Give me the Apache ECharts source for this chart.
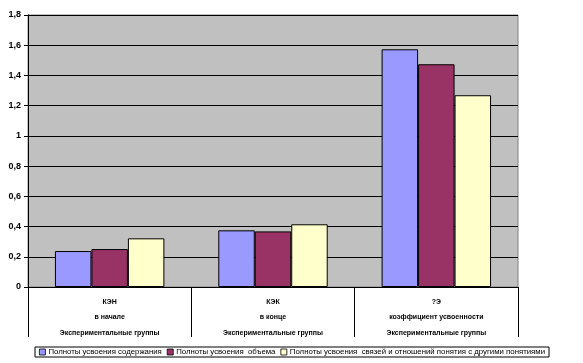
<!DOCTYPE html>
<html><head><meta charset="utf-8">
<script src="https://cdn.jsdelivr.net/npm/echarts@6/dist/echarts.min.js"></script>
<style>html,body{margin:0;padding:0;background:#fff}#c{width:583px;height:363px}</style>
</head><body><div id="c"></div>
<script>
const categories = [
  ['КЭН', 'в начале', 'Экспериментальные группы'],
  ['КЭК', 'в конце', 'Экспериментальные группы'],
  ['?Э', 'коэффициент усвоенности', 'Экспериментальные группы']
];
const seriesNames = [
  'Полноты усвоения содержания',
  'Полноты усвоения  объема',
  'Полноты усвоения  связей и отношений понятия с другими понятиями'
];
const contentValues = [0.238, 0.375, 1.573];
const volumeValues = [0.251, 0.368, 1.474];
const relationValues = [0.322, 0.415, 1.269];
const yTicks = [0, 0.2, 0.4, 0.6, 0.8, 1, 1.2, 1.4, 1.6, 1.8];
const colors = ['#9999FF', '#993366', '#FFFFCC'];

const chart = echarts.init(document.getElementById('c'), null, {renderer: 'canvas'});
const mk = (name, data, color) => ({
  name, type: 'bar', data, barGap: '0%', barCategoryGap: '33%',
  itemStyle: {color, borderColor: '#000', borderWidth: 1},
  emphasis: {disabled: true}
});
chart.setOption({
  animation: false,
  grid: {left: 28, right: 65, top: 15, bottom: 76, show: true, backgroundColor: '#C0C0C0', borderColor: '#808080', borderWidth: 1},
  xAxis: {
    type: 'category',
    data: categories.map(c => c.join('\n')),
    axisLine: {lineStyle: {color: '#000', width: 1}},
    axisTick: {show: true, length: 50, lineStyle: {color: '#000'}},
    axisLabel: {fontFamily: 'Arial, Liberation Sans', fontSize: 7, fontWeight: 'bold', color: '#000', lineHeight: 15.5, margin: 7, interval: 0}
  },
  yAxis: {
    type: 'value', min: 0, max: 1.8, interval: 0.2,
    axisLine: {show: true, lineStyle: {color: '#000'}},
    axisTick: {show: true, length: 4, lineStyle: {color: '#000'}},
    splitLine: {lineStyle: {color: '#000', width: 1}},
    axisLabel: {fontFamily: 'Arial, Liberation Sans', fontSize: 9, fontWeight: 'bold', color: '#000', margin: 7,
      formatter: v => { const t = yTicks.find(x => Math.abs(x - v) < 1e-6); return String(t !== undefined ? t : v).replace('.', ','); }}
  },
  legend: {
    bottom: 6, left: 35, itemWidth: 6, itemHeight: 6, itemGap: 5,
    borderColor: '#000', borderWidth: 1, padding: [1, 4],
    textStyle: {fontFamily: 'Arial, Liberation Sans', fontSize: 7.8, color: '#000', padding: [0,0,0,-2]},
    icon: 'rect',
    itemStyle: {borderColor: '#000', borderWidth: 0.8},
    data: seriesNames
  },
  series: [
    mk(seriesNames[0], contentValues, colors[0]),
    mk(seriesNames[1], volumeValues, colors[1]),
    mk(seriesNames[2], relationValues, colors[2])
  ]
});
</script></body></html>
